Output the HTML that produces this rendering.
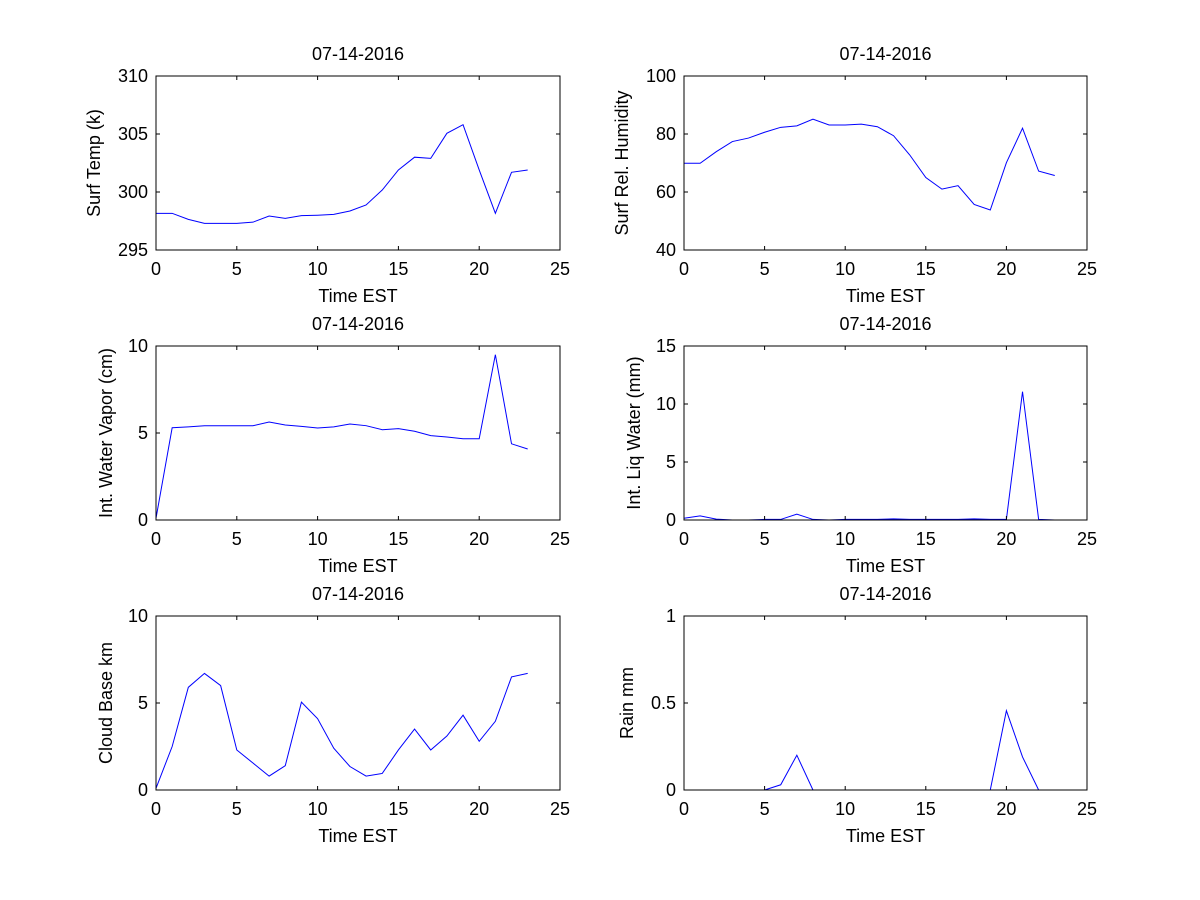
<!DOCTYPE html>
<html><head><meta charset="utf-8"><style>
html,body{margin:0;padding:0;background:#fff;}
svg{display:block;font-family:"Liberation Sans",Arial,sans-serif;}
</style></head><body>
<svg id="fig" width="1200" height="900" viewBox="0 0 1200 900" xmlns="http://www.w3.org/2000/svg"></svg>
<script>
const hours = [0,1,2,3,4,5,6,7,8,9,10,11,12,13,14,15,16,17,18,19,20,21,22,23];
const surfTemp = [298.16,298.16,297.64,297.3,297.3,297.3,297.4,297.93,297.73,297.96,298.0,298.07,298.36,298.88,300.17,301.9,303.0,302.9,305.06,305.8,301.9,298.16,301.7,301.9];
const relHum = [69.9,69.9,73.9,77.4,78.6,80.6,82.3,82.8,85.1,83.1,83.1,83.4,82.5,79.4,72.8,65,61,62.2,55.7,53.8,70.1,82,67.2,65.7];
const waterVapor = [0.1,5.3,5.35,5.42,5.42,5.42,5.42,5.63,5.46,5.38,5.29,5.35,5.52,5.42,5.19,5.25,5.1,4.85,4.77,4.67,4.67,9.5,4.38,4.08];
const liqWater = [0.15,0.35,0.08,0,0,0.05,0.05,0.5,0.05,0,0.05,0.05,0.05,0.1,0.05,0.05,0.05,0.05,0.1,0.05,0.05,11.06,0.05,0];
const cloudBase = [0.1,2.5,5.9,6.7,6.0,2.3,1.55,0.8,1.4,5.05,4.1,2.4,1.35,0.8,0.95,2.3,3.5,2.3,3.1,4.3,2.8,3.95,6.5,6.7];
const rain = [0,0,0,0,0,0,0.03,0.2,0,0,0,0,0,0,0,0,0,0,0,0,0.456,0.19,0,0];
const xTicks = [0,5,10,15,20,25];
const yTicks1 = [295,300,305,310];
const yTicks2 = [40,60,80,100];
const yTicks3 = [0,5,10];
const yTicks4 = [0,5,10,15];
const yTicks5 = [0,5,10];
const yTicks6 = [0,0.5,1];
const yTickLabels6 = ["0","0.5","1"];

const NS="http://www.w3.org/2000/svg";
const svg=document.getElementById('fig');
function mk(tag,attrs,parent){const e=document.createElementNS(NS,tag);for(const k in attrs)e.setAttribute(k,attrs[k]);(parent||svg).appendChild(e);return e;}

const panels=[
 {name:'surf-temp',x0:156,x1:560,y0:76,y1:250,ymin:295,ymax:310,ticks:yTicks1,labels:null,data:surfTemp,ylab:'Surf Temp (k)',yoff:56},
 {name:'surf-rel-humidity',x0:684,x1:1087,y0:76,y1:250,ymin:40,ymax:100,ticks:yTicks2,labels:null,data:relHum,ylab:'Surf Rel. Humidity',yoff:56},
 {name:'int-water-vapor',x0:156,x1:560,y0:346,y1:520,ymin:0,ymax:10,ticks:yTicks3,labels:null,data:waterVapor,ylab:'Int. Water Vapor (cm)',yoff:44},
 {name:'int-liq-water',x0:684,x1:1087,y0:346,y1:520,ymin:0,ymax:15,ticks:yTicks4,labels:null,data:liqWater,ylab:'Int. Liq Water (mm)',yoff:44},
 {name:'cloud-base',x0:156,x1:560,y0:616,y1:790,ymin:0,ymax:10,ticks:yTicks5,labels:null,data:cloudBase,ylab:'Cloud Base km',yoff:44},
 {name:'rain',x0:684,x1:1087,y0:616,y1:790,ymin:0,ymax:1,ticks:yTicks6,labels:yTickLabels6,data:rain,ylab:'Rain mm',yoff:51}
];

panels.forEach(p=>{
  const g=mk('g',{});
  
  
  const sx=v=>p.x0+(v-0)/(25-0)*(p.x1-p.x0);
  const sy=v=>p.y1-(v-p.ymin)/(p.ymax-p.ymin)*(p.y1-p.y0);
  const pts=hours.map((h,i)=>sx(h).toFixed(2)+','+sy(p.data[i]).toFixed(2)).join(' ');
  const line=mk('polyline',{points:pts,fill:'none',stroke:'#0000ff','stroke-width':1},g);
  
  
  const box=mk('rect',{x:p.x0,y:p.y0,width:p.x1-p.x0,height:p.y1-p.y0,fill:'none',stroke:'#000','stroke-width':1},g);
  
  
  xTicks.forEach(t=>{
    const x=sx(t);
    mk('line',{x1:x,x2:x,y1:p.y1,y2:p.y1-4,stroke:'#000'},g);
    mk('line',{x1:x,x2:x,y1:p.y0,y2:p.y0+4,stroke:'#000'},g);
    const tx=mk('text',{x:x,y:p.y1+25,'text-anchor':'middle','font-size':18,fill:'#000'},g);
    tx.textContent=String(t);
    
    
  });
  p.ticks.forEach((t,i)=>{
    const y=sy(t);
    mk('line',{x1:p.x0,x2:p.x0+4,y1:y,y2:y,stroke:'#000'},g);
    mk('line',{x1:p.x1,x2:p.x1-4,y1:y,y2:y,stroke:'#000'},g);
    const ty=mk('text',{x:p.x0-8,y:y+6,'text-anchor':'end','font-size':18,fill:'#000'},g);
    ty.textContent=p.labels?p.labels[i]:String(t);
    
    
  });
  const cx=(p.x0+p.x1)/2;
  const title=mk('text',{x:cx,y:p.y0-16,'text-anchor':'middle','font-size':18,fill:'#000'},g);
  title.textContent='07-14-2016';
  
  
  const xl=mk('text',{x:cx,y:p.y1+52,'text-anchor':'middle','font-size':18,fill:'#000'},g);
  xl.textContent='Time EST';
  
  
  const yc=(p.y0+p.y1)/2;
  const yx=p.x0-p.yoff;
  const yl=mk('text',{x:yx,y:yc,'text-anchor':'middle','font-size':18,fill:'#000',transform:`rotate(-90 ${yx} ${yc})`},g);
  yl.textContent=p.ylab;
  
  
});
</script>
</body></html>
